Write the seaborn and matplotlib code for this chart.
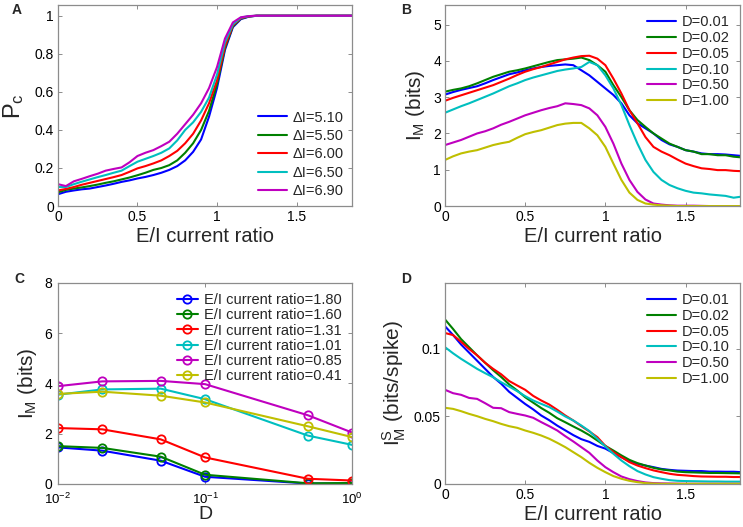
import numpy as np
import pandas as pd
import matplotlib
matplotlib.use("Agg")
import matplotlib.pyplot as plt
from matplotlib.ticker import FuncFormatter
import seaborn as sns

# ---------------- data ----------------
x_ratio = [0.00, 0.05, 0.10, 0.15, 0.20, 0.25, 0.30, 0.35, 0.40, 0.45,
           0.50, 0.55, 0.60, 0.65, 0.70, 0.75, 0.80, 0.85, 0.90, 0.95,
           1.00, 1.05, 1.10, 1.15, 1.20, 1.25, 1.30, 1.35, 1.40, 1.45,
           1.50, 1.55, 1.60, 1.65, 1.70, 1.75, 1.80, 1.85]

# Panel A: Pc
dI_labels = ["\u0394I=5.10", "\u0394I=5.50", "\u0394I=6.00", "\u0394I=6.50", "\u0394I=6.90"]
pc_510 = [0.062, 0.075, 0.082, 0.088, 0.092, 0.100, 0.108, 0.117, 0.127, 0.135,
          0.145, 0.153, 0.163, 0.175, 0.190, 0.210, 0.240, 0.285, 0.350, 0.470,
          0.620, 0.820, 0.940, 0.982, 0.995, 1.000, 1.0, 1.0, 1.0, 1.0,
          1.0, 1.0, 1.0, 1.0, 1.0, 1.0, 1.0, 1.0]
pc_550 = [0.072, 0.085, 0.092, 0.098, 0.105, 0.113, 0.122, 0.130, 0.140, 0.150,
          0.162, 0.175, 0.190, 0.200, 0.215, 0.240, 0.280, 0.330, 0.400, 0.500,
          0.640, 0.830, 0.945, 0.985, 0.996, 1.000, 1.0, 1.0, 1.0, 1.0,
          1.0, 1.0, 1.0, 1.0, 1.0, 1.0, 1.0, 1.0]
pc_600 = [0.082, 0.090, 0.100, 0.112, 0.122, 0.132, 0.142, 0.152, 0.163, 0.180,
          0.198, 0.210, 0.224, 0.240, 0.263, 0.290, 0.330, 0.380, 0.450, 0.540,
          0.660, 0.840, 0.950, 0.987, 0.997, 1.000, 1.0, 1.0, 1.0, 1.0,
          1.0, 1.0, 1.0, 1.0, 1.0, 1.0, 1.0, 1.0]
pc_650 = [0.100, 0.100, 0.115, 0.128, 0.140, 0.152, 0.163, 0.175, 0.186, 0.210,
          0.233, 0.248, 0.263, 0.280, 0.303, 0.345, 0.400, 0.440, 0.495, 0.570,
          0.690, 0.860, 0.955, 0.990, 0.998, 1.000, 1.0, 1.0, 1.0, 1.0,
          1.0, 1.0, 1.0, 1.0, 1.0, 1.0, 1.0, 1.0]
pc_690 = [0.115, 0.105, 0.130, 0.143, 0.157, 0.170, 0.186, 0.195, 0.203, 0.230,
          0.263, 0.280, 0.294, 0.315, 0.338, 0.380, 0.430, 0.480, 0.540, 0.620,
          0.730, 0.880, 0.965, 0.992, 0.998, 1.000, 1.0, 1.0, 1.0, 1.0,
          1.0, 1.0, 1.0, 1.0, 1.0, 1.0, 1.0, 1.0]

# Panel B: I_M (bits)
D_labels = ["D=0.01", "D=0.02", "D=0.05", "D=0.10", "D=0.50", "D=1.00"]
im_001 = [3.07, 3.14, 3.20, 3.25, 3.30, 3.38, 3.47, 3.55, 3.63, 3.68,
          3.74, 3.79, 3.83, 3.86, 3.88, 3.90, 3.88, 3.74, 3.60, 3.42,
          3.24, 3.06, 2.83, 2.50, 2.28, 2.14, 2.00, 1.82, 1.70, 1.63,
          1.54, 1.50, 1.45, 1.43, 1.43, 1.42, 1.40, 1.38]
im_002 = [3.15, 3.20, 3.24, 3.30, 3.38, 3.47, 3.56, 3.63, 3.70, 3.74,
          3.79, 3.85, 3.91, 3.97, 4.02, 4.04, 4.06, 4.09, 4.02, 3.88,
          3.70, 3.33, 3.00, 2.64, 2.37, 2.18, 2.00, 1.86, 1.72, 1.63,
          1.54, 1.50, 1.43, 1.43, 1.40, 1.40, 1.36, 1.34]
im_005 = [2.90, 2.98, 3.05, 3.12, 3.19, 3.26, 3.33, 3.42, 3.51, 3.61,
          3.70, 3.77, 3.83, 3.90, 3.97, 4.04, 4.09, 4.13, 4.14, 4.06,
          3.88, 3.51, 3.10, 2.64, 2.28, 1.90, 1.63, 1.50, 1.40, 1.28,
          1.17, 1.10, 1.04, 1.02, 0.99, 0.99, 0.97, 0.96]
im_010 = [2.57, 2.66, 2.75, 2.83, 2.92, 3.01, 3.10, 3.20, 3.30, 3.38,
          3.47, 3.54, 3.60, 3.66, 3.72, 3.76, 3.79, 3.83, 3.97, 3.88,
          3.60, 3.24, 2.78, 2.23, 1.72, 1.27, 0.94, 0.72, 0.58, 0.49,
          0.42, 0.37, 0.35, 0.32, 0.30, 0.28, 0.23, 0.26]
im_050 = [1.68, 1.75, 1.82, 1.91, 2.00, 2.06, 2.14, 2.24, 2.32, 2.41,
          2.50, 2.57, 2.64, 2.70, 2.75, 2.83, 2.81, 2.78, 2.69, 2.50,
          2.18, 1.72, 1.17, 0.72, 0.39, 0.18, 0.07, 0.04, 0.02, 0.01,
          0.01, 0.01, 0.005, 0.0, 0.0, 0.0, 0.0, 0.0]
im_100 = [1.27, 1.37, 1.45, 1.50, 1.54, 1.61, 1.68, 1.73, 1.77, 1.88,
          1.98, 2.04, 2.09, 2.16, 2.23, 2.27, 2.29, 2.29, 2.14, 1.95,
          1.63, 1.17, 0.72, 0.37, 0.17, 0.07, 0.04, 0.02, 0.01, 0.0,
          0.0, 0.0, 0.0, 0.0, 0.0, 0.0, 0.0, 0.0]

# Panel C: I_M vs D
D_values = [0.01, 0.02, 0.05, 0.1, 0.5, 1.0]
ratio_labels = ["E/I current ratio=1.80", "E/I current ratio=1.60", "E/I current ratio=1.31",
                "E/I current ratio=1.01", "E/I current ratio=0.85", "E/I current ratio=0.41"]
c_180 = [1.45, 1.32, 0.92, 0.28, 0.01, 0.01]
c_160 = [1.50, 1.43, 1.08, 0.36, 0.02, 0.03]
c_131 = [2.22, 2.17, 1.77, 1.05, 0.20, 0.13]
c_101 = [3.55, 3.76, 3.79, 3.37, 1.92, 1.55]
c_085 = [3.89, 4.08, 4.10, 3.97, 2.73, 2.04]
c_041 = [3.58, 3.67, 3.51, 3.24, 2.29, 1.86]

# Panel D: I_M^S (bits/spike)
ims_001 = [0.1165, 0.1100, 0.1030, 0.0970, 0.0910, 0.0850, 0.0790, 0.0740, 0.0680, 0.0635,
           0.0590, 0.0550, 0.0505, 0.0470, 0.0430, 0.0395, 0.0360, 0.0330, 0.0310, 0.0280,
           0.0260, 0.0227, 0.0197, 0.0167, 0.0148, 0.0135, 0.0123, 0.0110, 0.0103, 0.0098,
           0.0096, 0.0094, 0.0094, 0.0090, 0.0090, 0.0089, 0.0089, 0.0086]
ims_002 = [0.1215, 0.1145, 0.1070, 0.1010, 0.0950, 0.0895, 0.0840, 0.0790, 0.0735, 0.0690,
           0.0640, 0.0600, 0.0560, 0.0525, 0.0485, 0.0455, 0.0424, 0.0394, 0.0360, 0.0320,
           0.0280, 0.0246, 0.0210, 0.0177, 0.0153, 0.0135, 0.0118, 0.0106, 0.0099, 0.0090,
           0.0086, 0.0084, 0.0082, 0.0080, 0.0080, 0.0079, 0.0078, 0.0077]
ims_005 = [0.1115, 0.1100, 0.1050, 0.0997, 0.0950, 0.0895, 0.0850, 0.0810, 0.0760, 0.0727,
           0.0695, 0.0650, 0.0616, 0.0586, 0.0547, 0.0505, 0.0468, 0.0426, 0.0387, 0.0345,
           0.0280, 0.0234, 0.0197, 0.0160, 0.0135, 0.0116, 0.0099, 0.0086, 0.0074, 0.0066,
           0.0062, 0.0057, 0.0054, 0.0053, 0.0052, 0.0052, 0.0050, 0.0050]
ims_010 = [0.1010, 0.0965, 0.0924, 0.0887, 0.0850, 0.0818, 0.0788, 0.0751, 0.0719, 0.0685,
           0.0648, 0.0616, 0.0591, 0.0567, 0.0534, 0.0498, 0.0468, 0.0431, 0.0390, 0.0333,
           0.0276, 0.0222, 0.0172, 0.0130, 0.0094, 0.0069, 0.0049, 0.0037, 0.0027, 0.0022,
           0.0020, 0.0019, 0.0018, 0.0017, 0.0017, 0.0016, 0.0016, 0.0016]
ims_050 = [0.0695, 0.0670, 0.0658, 0.0635, 0.0628, 0.0596, 0.0562, 0.0559, 0.0530, 0.0517,
           0.0505, 0.0488, 0.0456, 0.0426, 0.0394, 0.0352, 0.0313, 0.0271, 0.0229, 0.0172,
           0.0123, 0.0086, 0.0054, 0.0034, 0.0020, 0.0010, 0.0005, 0.0003, 0.0002, 0.0001,
           0.0, 0.0, 0.0, 0.0, 0.0, 0.0, 0.0, 0.0]
ims_100 = [0.0562, 0.0554, 0.0537, 0.0517, 0.0500, 0.0480, 0.0463, 0.0443, 0.0426, 0.0414,
           0.0394, 0.0377, 0.0357, 0.0333, 0.0303, 0.0271, 0.0234, 0.0197, 0.0155, 0.0118,
           0.0086, 0.0057, 0.0037, 0.0022, 0.0012, 0.0005, 0.0002, 0.0, 0.0, 0.0,
           0.0, 0.0, 0.0, 0.0, 0.0, 0.0, 0.0, 0.0]

colors6 = [(0, 0, 1), (0, 0.5, 0), (1, 0, 0), (0, 0.75, 0.75), (0.75, 0, 0.75), (0.75, 0.75, 0)]

# ---------------- style ----------------
sns.set_style("ticks")
plt.rcParams["font.family"] = ["Liberation Sans", "DejaVu Sans"]
plt.rcParams["mathtext.fontset"] = "custom"
plt.rcParams["mathtext.rm"] = "Liberation Sans"
plt.rcParams["mathtext.it"] = "Liberation Sans:italic"

fig = plt.figure(figsize=(7.43, 5.27), dpi=100)
axA = fig.add_axes([0.078, 0.609, 0.396, 0.381])
axB = fig.add_axes([0.599, 0.609, 0.397, 0.381])
axC = fig.add_axes([0.078, 0.082, 0.396, 0.381])
axD = fig.add_axes([0.599, 0.082, 0.397, 0.381])

fmt = FuncFormatter(lambda v, p: ("%g" % round(v, 4)))

def style(ax, xpad=3, xls=10, ypad=3):
    for s in ax.spines.values():
        s.set_color("#8c8c8c")
        s.set_linewidth(0.9)
    ax.tick_params(direction="in", top=True, right=True, length=3, width=0.7,
                   color="#8c8c8c", labelsize=10, labelcolor="black", pad=ypad)
    ax.tick_params(axis="x", pad=xpad, labelsize=xls)

lw = 1.5
xl_fs = 14.5

# Panel A
dfA = pd.DataFrame({"x": x_ratio * 5,
                    "y": pc_510 + pc_550 + pc_600 + pc_650 + pc_690,
                    "s": sum([[l] * len(x_ratio) for l in dI_labels], [])})
sns.lineplot(data=dfA, x="x", y="y", hue="s", palette=colors6[:5], ax=axA, lw=lw, legend=True)
axA.set_xlim(0, 1.85)
axA.set_ylim(0, 1.055)
axA.set_xticks([0, 0.5, 1, 1.5])
axA.set_yticks([0, 0.2, 0.4, 0.6, 0.8, 1])
axA.xaxis.set_major_formatter(fmt)
axA.yaxis.set_major_formatter(fmt)
axA.set_xlabel("E/I current ratio", fontsize=xl_fs, labelpad=2)
axA.set_ylabel(r"$\mathregular{P_c}$", fontsize=17, labelpad=6)
axA.legend(loc="lower right", frameon=False, fontsize=10.5, handlelength=2.0,
           labelspacing=0.3, handletextpad=0.4, borderaxespad=0.15)
style(axA)

# Panel B
dfB = pd.DataFrame({"x": x_ratio * 6,
                    "y": im_001 + im_002 + im_005 + im_010 + im_050 + im_100,
                    "s": sum([[l] * len(x_ratio) for l in D_labels], [])})
sns.lineplot(data=dfB, x="x", y="y", hue="s", palette=colors6, ax=axB, lw=lw, legend=True)
axB.set_xlim(0, 1.84)
axB.set_ylim(0, 5.53)
axB.set_xticks([0, 0.5, 1, 1.5])
axB.set_yticks([0, 1, 2, 3, 4, 5])
axB.xaxis.set_major_formatter(fmt)
axB.set_xlabel("E/I current ratio", fontsize=xl_fs, labelpad=2)
axB.set_ylabel(r"$\mathregular{I_M}$ (bits)", fontsize=15, labelpad=4)
axB.legend(loc="upper right", frameon=False, fontsize=10.5, handlelength=2.0,
           labelspacing=0.12, handletextpad=0.4, borderaxespad=0.3)
style(axB)

# Panel C
dfC = pd.DataFrame({"x": D_values * 6,
                    "y": c_180 + c_160 + c_131 + c_101 + c_085 + c_041,
                    "s": sum([[l] * len(D_values) for l in ratio_labels], [])})
sns.lineplot(data=dfC, x="x", y="y", hue="s", palette=colors6, ax=axC, lw=lw,
             marker="o", markersize=6, markerfacecolor="none", markeredgewidth=1.3,
             legend=True)
for ln in axC.lines:
    ln.set_markeredgecolor(ln.get_color())
axC.set_xscale("log")
axC.set_xlim(0.01, 1.0)
axC.set_ylim(0, 8)
axC.set_yticks([0, 2, 4, 6, 8])
axC.set_xticks([0.01, 0.1, 1])
axC.set_xticklabels([r"$\mathregular{10^{-2}}$", r"$\mathregular{10^{-1}}$", r"$\mathregular{10^{0}}$"])
axC.minorticks_off()
axC.set_xlabel("D", fontsize=14)
axC.xaxis.set_label_coords(0.5, -0.112)
axC.set_ylabel(r"$\mathregular{I_M}$ (bits)", fontsize=15, labelpad=4)
legC = axC.legend(loc="upper right", frameon=False, fontsize=10.5, handlelength=1.5,
                  labelspacing=0.08, handletextpad=0.4, borderaxespad=0.3)
for h in legC.legend_handles:
    h.set_markerfacecolor("none")
    h.set_markeredgecolor(h.get_color())
style(axC, xpad=5.5, xls=9.5, ypad=4)

# Panel D
dfD = pd.DataFrame({"x": x_ratio * 6,
                    "y": ims_001 + ims_002 + ims_005 + ims_010 + ims_050 + ims_100,
                    "s": sum([[l] * len(x_ratio) for l in D_labels], [])})
sns.lineplot(data=dfD, x="x", y="y", hue="s", palette=colors6, ax=axD, lw=lw, legend=True)
axD.set_xlim(0, 1.84)
axD.set_ylim(0, 0.1485)
axD.set_xticks([0, 0.5, 1, 1.5])
axD.set_yticks([0, 0.05, 0.1])
axD.xaxis.set_major_formatter(fmt)
axD.yaxis.set_major_formatter(fmt)
axD.set_xlabel("E/I current ratio", fontsize=xl_fs, labelpad=2)
axD.set_ylabel(r"$\mathregular{I_M^S}$ (bits/spike)", fontsize=15, labelpad=4)
axD.legend(loc="upper right", frameon=False, fontsize=10.5, handlelength=2.0,
           labelspacing=0.12, handletextpad=0.4, borderaxespad=0.3)
style(axD)

# panel letters
for lab, (px, py) in zip("ABCD", [(12, 10), (401, 10), (14, 279), (401, 279)]):
    fig.text(px / 743, 1 - py / 527, lab, fontsize=10, fontweight="bold",
             ha="left", va="center")

fig.savefig("out.png", dpi=100)
